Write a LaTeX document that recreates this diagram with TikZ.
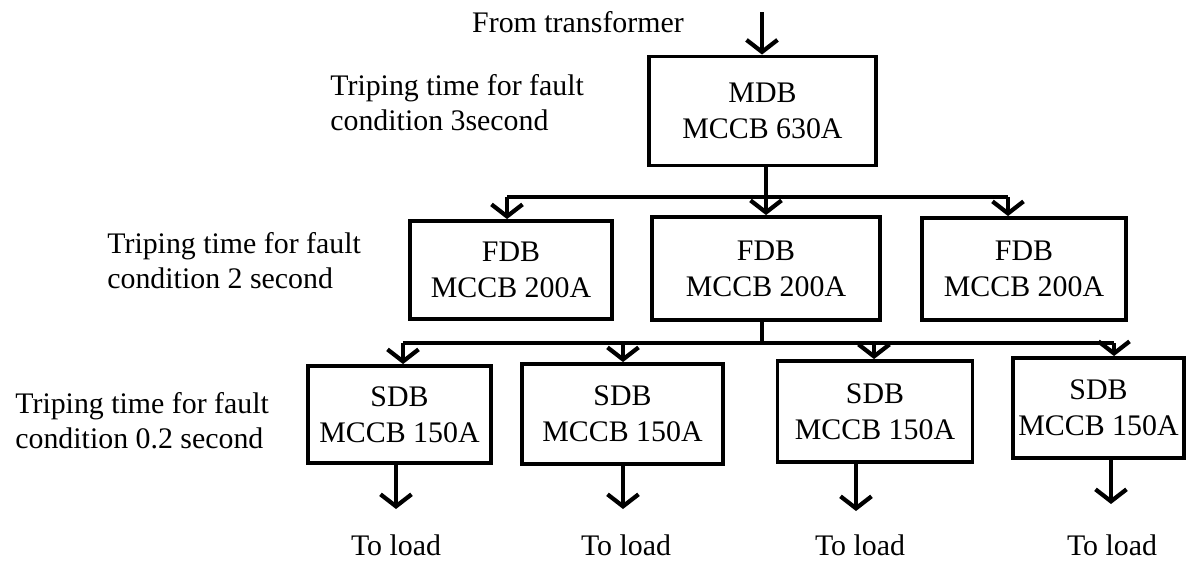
\documentclass[tikz,border=0pt]{standalone}
\usepackage{fontspec}
\setmainfont{Liberation Serif}
\usepackage{tikz}
\usetikzlibrary{arrows.meta,positioning}

\begin{document}
\begin{tikzpicture}[
    x=0.02cm, y=-0.02cm,
    box/.style={rectangle, draw=black, line width=2.2pt, inner sep=2pt, align=center, font=\fontsize{17}{20.5}\selectfont},
    lbl/.style={align=left, inner sep=0pt, anchor=west, font=\fontsize{17}{20}\selectfont},
    wire/.style={line width=2.2pt},
    arr/.style={wire, -{Straight Barb[length=0.24cm, width=0.62cm, line width=2.4pt]}}
]
    \useasboundingbox (0,0) rectangle (1187,561);

    \node[box, minimum width=4.54cm, minimum height=2.18cm] (mdb) at (762.5,111) {MDB\\MCCB 630A};

    \node[box, minimum width=4.04cm, minimum height=1.96cm] (fdbA) at (511,270) {FDB\\MCCB 200A};
    \node[box, minimum width=4.56cm, minimum height=2.06cm] (fdbB) at (766,268.5) {FDB\\MCCB 200A};
    \node[box, minimum width=4.08cm, minimum height=2.04cm] (fdbC) at (1024,269) {FDB\\MCCB 200A};

    \node[box, minimum width=3.66cm, minimum height=1.94cm] (sdbA) at (399.5,414.5) {SDB\\MCCB 150A};
    \node[box, minimum width=4.02cm, minimum height=2.0cm] (sdbB) at (622.5,414) {SDB\\MCCB 150A};
    \node[box, minimum width=3.9cm, minimum height=2.02cm] (sdbC) at (875,411.5) {SDB\\MCCB 150A};
    \node[box, minimum width=3.42cm, minimum height=2.0cm] (sdbD) at (1098.5,408) {SDB\\MCCB 150A};

    \node[font=\fontsize{17}{20}\selectfont, inner sep=0pt] (src) at (578,22) {From transformer};
    \node[lbl] (tripA) at (330,103) {Triping time for fault\\condition 3second};
    \node[lbl] (tripB) at (107,261) {Triping time for fault\\condition 2 second};
    \node[lbl] (tripC) at (15,421) {Triping time for fault\\condition 0.2 second};

    \node[font=\fontsize{17}{20}\selectfont, inner sep=0pt] (loadA) at (396,545) {To load};
    \node[font=\fontsize{17}{20}\selectfont, inner sep=0pt] (loadB) at (626,545) {To load};
    \node[font=\fontsize{17}{20}\selectfont, inner sep=0pt] (loadC) at (860,545) {To load};
    \node[font=\fontsize{17}{20}\selectfont, inner sep=0pt] (loadD) at (1112,545) {To load};

    \coordinate (feed) at (762,12);
    \draw[arr] (feed) -- (feed |- mdb.north);

    \coordinate (busA) at (766,197);
    \coordinate (dA1) at (507,197);
    \coordinate (dA3) at (1008,197);
    \draw[wire] (busA |- mdb.south) -- (busA);
    \draw[wire] (dA1) -- (dA3);
    \draw[arr] (dA1) -- (dA1 |- fdbA.north);
    \draw[arr] (busA) -- (busA |- fdbB.north);
    \draw[arr] (dA3) -- (dA3 |- fdbC.north);

    \coordinate (busB) at (762,343);
    \coordinate (dB1) at (403,343);
    \coordinate (dB2) at (623,343);
    \coordinate (dB3) at (874,343);
    \coordinate (dB4) at (1114,343);
    \draw[wire] (busB |- fdbB.south) -- (busB);
    \draw[wire] (dB1) -- (dB4);
    \draw[arr] (dB1) -- (dB1 |- sdbA.north);
    \draw[arr] (dB2) -- (dB2 |- sdbB.north);
    \draw[arr] (dB3) -- (dB3 |- sdbC.north);
    \draw[arr] (dB4) -- (dB4 |- sdbD.north);

    \coordinate (oA) at (396,509);
    \coordinate (oB) at (623,509);
    \coordinate (oC) at (856,511);
    \coordinate (oD) at (1111,504);
    \draw[arr] (oA |- sdbA.south) -- (oA);
    \draw[arr] (oB |- sdbB.south) -- (oB);
    \draw[arr] (oC |- sdbC.south) -- (oC);
    \draw[arr] (oD |- sdbD.south) -- (oD);
\end{tikzpicture}
\end{document}
